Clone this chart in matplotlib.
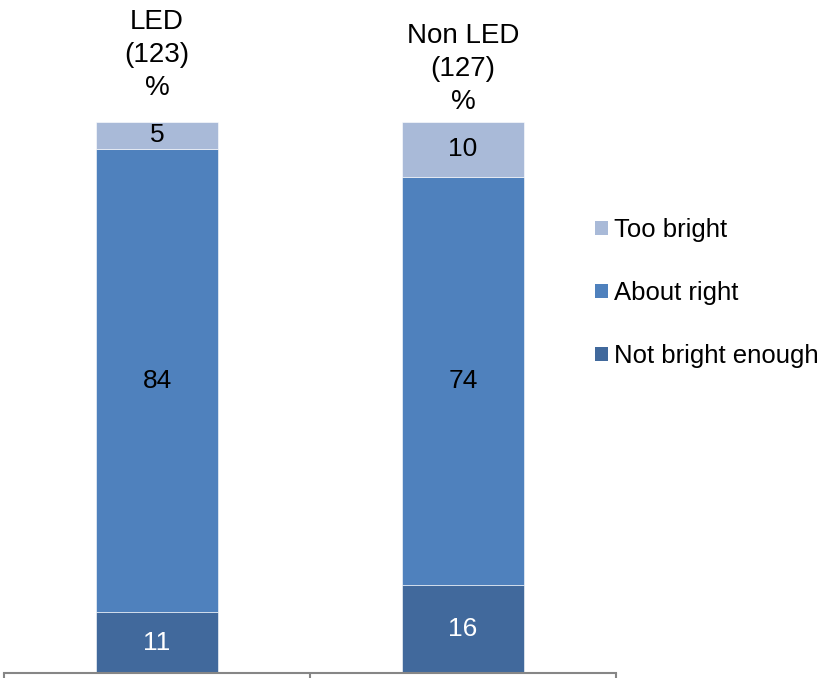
import matplotlib
matplotlib.use("Agg")
import matplotlib.pyplot as plt
from matplotlib.patches import Patch

plt.rcParams['font.family'] = ['Liberation Sans', 'DejaVu Sans']

categories = ["LED", "Non LED"]
headers = ["LED\n(123)\n%", "Non LED\n(127)\n%"]
series = ["Not bright enough", "About right", "Too bright"]
not_bright = [11, 16]
about_right = [84, 74]
too_bright = [5, 10]

colors = ["#41699C", "#4F81BD", "#A9BAD8"]
label_colors = ["white", "black", "black"]

fig = plt.figure(figsize=(8.21, 6.78), dpi=100)
ax = fig.add_axes([4 / 821, 5 / 678, 612 / 821, 551.5 / 678])

x = list(range(len(categories)))
bottoms = [0] * len(categories)
handles = []
for vals, col, lc, name in zip([not_bright, about_right, too_bright], colors, label_colors, series):
    ax.bar(x, vals, width=0.4, bottom=bottoms, color=col,
           edgecolor="white", linewidth=0.4)
    for xi, v, b in zip(x, vals, bottoms):
        ax.text(xi, b + v / 2, f"{v}", ha="center", va="center",
                fontsize=19, color=lc)
    bottoms = [b + v for b, v in zip(bottoms, vals)]
    handles.append(Patch(facecolor=col, edgecolor="none", label=name))

ax.set_xlim(-0.5, 1.5)
ax.set_ylim(0, 100)

# headers above each bar
header_y = [103.8, 101.2]
for xi, h, hy in zip(x, headers, header_y):
    ax.text(xi, hy, h, ha="center", va="bottom", fontsize=20,
            linespacing=1.35, clip_on=False)

for s in ["left", "right", "top"]:
    ax.spines[s].set_visible(False)
ax.spines["bottom"].set_color("#868686")
ax.spines["bottom"].set_linewidth(1.5)
ax.set_yticks([])
ax.set_xticks([])
ax.set_xticks([-0.5, 0.5, 1.5], minor=True)
ax.tick_params(axis="x", which="minor", direction="out", length=6,
               width=1.5, color="#868686", labelbottom=False)

fig.legend(handles=handles[::-1], loc="center left",
           bbox_to_anchor=(595 / 821, 1 - 293 / 678), frameon=False,
           fontsize=18.5, handlelength=0.5, handleheight=0.5,
           handletextpad=0.25, labelspacing=1.52, borderpad=0,
           borderaxespad=0)

fig.savefig("out.png", dpi=100)
